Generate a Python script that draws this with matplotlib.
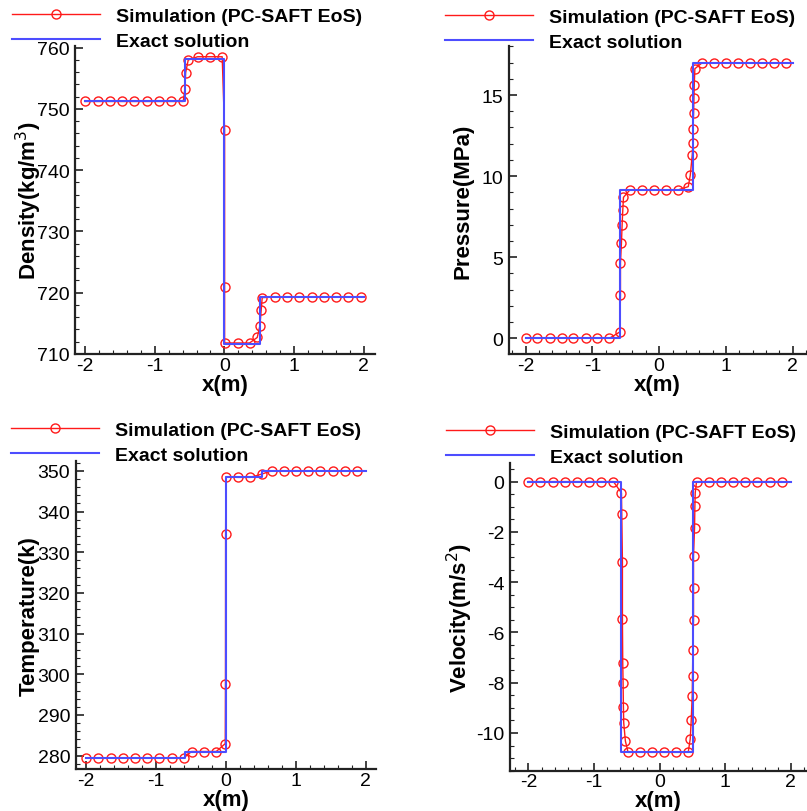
# plot.py
# PC-SAFT 激波管算例：密度/压力/温度/速度 与精确解对比

import matplotlib
matplotlib.use("Agg")
import matplotlib.pyplot as plt
from matplotlib.ticker import MultipleLocator

plt.rcParams['font.family'] = ['Liberation Sans', 'DejaVu Sans']
plt.rcParams['axes.unicode_minus'] = False

# ---------------- 数据 ----------------
# 密度
rho_sim_x = [-2.0, -1.818, -1.642, -1.47, -1.294, -1.116, -0.939, -0.763, -0.591,
             -0.566, -0.556, -0.519, -0.384, -0.208, -0.032,
             0.003, 0.003, 0.003, 0.189, 0.361, 0.471, 0.509, 0.528, 0.542,
             0.724, 0.900, 1.072, 1.25, 1.422, 1.598, 1.775, 1.953]
rho_sim_y = [751.2, 751.2, 751.2, 751.2, 751.2, 751.2, 751.2, 751.2, 751.2,
             753.3, 755.9, 757.97, 758.5, 758.5, 758.5,
             746.5, 721.0, 711.8, 711.8, 711.8, 712.7, 714.6, 717.2, 719.2,
             719.3, 719.3, 719.3, 719.3, 719.3, 719.3, 719.3, 719.3]
rho_ex_x = [-2.0, -0.568, -0.568, 0.0, 0.0, 0.505, 0.505, 2.0]
rho_ex_y = [751.2, 751.2, 758.1, 758.1, 711.7, 711.7, 719.3, 719.3]

# 压力
p_sim_x = [-2.0, -1.826, -1.641, -1.462, -1.288, -1.103, -0.924, -0.745,
           -0.590, -0.580, -0.580, -0.565, -0.555, -0.545, -0.535,
           -0.441, -0.261, -0.082, 0.097, 0.276,
           0.436, 0.466, 0.496, 0.506, 0.506, 0.516, 0.521, 0.526, 0.535,
           0.645, 0.824, 1.004, 1.183, 1.362, 1.542, 1.726, 1.905]
p_sim_y = [0.0, 0.0, 0.0, 0.0, 0.0, 0.0, 0.0, 0.0,
           0.39, 2.65, 4.64, 5.90, 7.01, 7.91, 8.69,
           9.14, 9.14, 9.14, 9.14, 9.14,
           9.35, 10.05, 11.32, 12.04, 12.92, 13.87, 14.79, 15.64, 16.62,
           16.99, 16.99, 16.99, 16.99, 16.99, 16.99, 16.99, 16.99]
p_ex_x = [-2.0, -0.585, -0.585, 0.506, 0.506, 2.0]
p_ex_y = [0.0, 0.0, 9.14, 9.14, 16.99, 16.99]

# 温度
T_sim_x = [-2.0, -1.824, -1.647, -1.476, -1.299, -1.128, -0.951, -0.775, -0.603,
           -0.489, -0.312, -0.136,
           -0.007, -0.004, -0.002, 0.002,
           0.174, 0.351, 0.513,
           0.656, 0.827, 1.004, 1.180, 1.352, 1.528, 1.704, 1.881]
T_sim_y = [279.4, 279.4, 279.4, 279.4, 279.4, 279.4, 279.4, 279.4, 279.4,
           281.0, 281.0, 281.0,
           282.95, 297.6, 334.5, 348.5,
           348.4, 348.4, 349.2,
           350.0, 350.0, 350.0, 350.0, 350.0, 350.0, 350.0, 350.0]
T_ex_x = [-2.0, -0.584, -0.584, 0.0, 0.0, 0.513, 0.513, 2.0]
T_ex_y = [279.4, 279.4, 281.0, 281.0, 348.5, 348.5, 350.0, 350.0]

# 速度
u_sim_x = [-2.0, -1.818, -1.630, -1.448, -1.261, -1.078, -0.891, -0.704,
           -0.582, -0.577, -0.567, -0.567, -0.562, -0.557, -0.552, -0.547, -0.522, -0.481,
           -0.299, -0.116, 0.071, 0.253, 0.435,
           0.466, 0.481, 0.496, 0.501, 0.506, 0.516, 0.516, 0.516, 0.532, 0.537, 0.542, 0.562,
           0.749, 0.932, 1.119, 1.301, 1.489, 1.676, 1.858]
u_sim_y = [0.0, 0.0, 0.0, 0.0, 0.0, 0.0, 0.0, 0.0,
           -0.45, -1.29, -3.18, -5.46, -7.23, -8.0, -8.97, -9.60, -10.32, -10.77,
           -10.77, -10.77, -10.77, -10.77, -10.77,
           -10.24, -9.50, -8.53, -7.72, -6.70, -5.49, -4.22, -2.96, -1.84, -0.99, -0.45, 0.0,
           0.0, 0.0, 0.0, 0.0, 0.0, 0.0, 0.0]
u_ex_x = [-2.0, -0.582, -0.582, 0.506, 0.506, 2.0]
u_ex_y = [0.0, 0.0, -10.74, -10.74, 0.0, 0.0]

lab_sim = "Simulation (PC-SAFT EoS)"
lab_ex = "Exact solution"

c_red = "#ff1a1a"
c_blue = "#4d4dff"
c_axis = "#222222"


def draw_panel(ax, sx, sy, ex, ey, ylabel, xlim, ylim, ymajor, yminor, ylab_x, leg_xy):
    ax.plot(sx, sy, color=c_red, lw=1.0, marker='o', ms=6.5, mfc='none',
            mec=c_red, mew=1.0, label=lab_sim, zorder=2)
    ax.plot(ex, ey, color=c_blue, lw=1.5, label=lab_ex, zorder=3)
    ax.set_xlim(*xlim)
    ax.set_ylim(*ylim)

    for s in ['top', 'right']:
        ax.spines[s].set_visible(False)
    for s in ['left', 'bottom']:
        ax.spines[s].set_color(c_axis)
        ax.spines[s].set_linewidth(1.6)

    ax.xaxis.set_major_locator(MultipleLocator(1))
    ax.xaxis.set_minor_locator(MultipleLocator(0.2))
    ax.yaxis.set_major_locator(MultipleLocator(ymajor))
    ax.yaxis.set_minor_locator(MultipleLocator(yminor))
    ax.tick_params(which='both', direction='in', colors=c_axis, labelcolor='black')
    ax.tick_params(which='major', length=6, width=1.2, labelsize=14)
    ax.tick_params(which='minor', length=3, width=0.8)
    ax.tick_params(axis='x', which='major', pad=2)
    ax.tick_params(axis='y', which='major', pad=4)

    ax.set_xlabel("x(m)", fontsize=16, fontweight='bold', labelpad=0)
    ax.set_ylabel(ylabel, fontsize=16, fontweight='bold')
    ax.yaxis.set_label_coords(ylab_x, 0.5)

    ax.legend(loc='upper left', bbox_to_anchor=leg_xy, bbox_transform=ax.figure.transFigure,
              frameon=False, borderpad=0, borderaxespad=0, numpoints=1,
              handlelength=4.5, handletextpad=0.85, labelspacing=0.4,
              prop={'size': 14, 'weight': 'bold'})


fig = plt.figure(figsize=(8.07, 8.12), dpi=100)
W, H = 807.0, 812.0


def add_ax(l, r, t, b):
    return fig.add_axes([l / W, 1 - b / H, (r - l) / W, (b - t) / H])


ax1 = add_ax(75, 375, 46.7, 355)
ax2 = add_ax(509, 806, 46.7, 355)
ax3 = add_ax(75.7, 376, 461.7, 770)
ax4 = add_ax(510, 806, 464, 771.7)

draw_panel(ax1, rho_sim_x, rho_sim_y, rho_ex_x, rho_ex_y, "Density(kg/m$^3$)",
           (-2.143, 2.16), (710, 760.3), 10, 2, -0.105, (12 / W, 1 - 8 / H))
draw_panel(ax2, p_sim_x, p_sim_y, p_ex_x, p_ex_y, "Pressure(MPa)",
           (-2.25, 2.2), (-0.97, 18.04), 5, 1, -0.121, (445 / W, 1 - 9 / H))
draw_panel(ax3, T_sim_x, T_sim_y, T_ex_x, T_ex_y, "Temperature(k)",
           (-2.147, 2.15), (276.7, 352.5), 10, 2, -0.119, (11 / W, 1 - 422 / H))
draw_panel(ax4, u_sim_x, u_sim_y, u_ex_x, u_ex_y, "Velocity(m/s$^2$)",
           (-2.28, 2.23), (-11.5, 0.74), 2, 0.5, -0.118, (446 / W, 1 - 424 / H))

fig.savefig("out.png", dpi=100)
